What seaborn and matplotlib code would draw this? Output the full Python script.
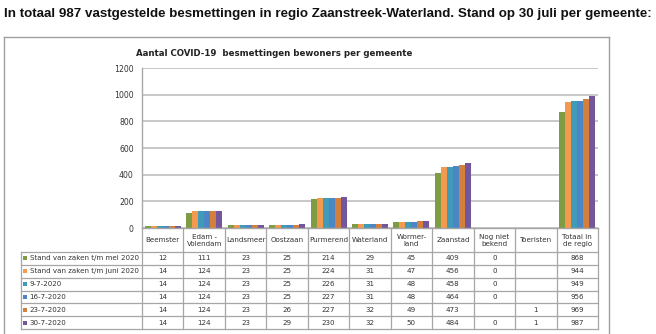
import matplotlib
matplotlib.use("Agg")
import matplotlib.pyplot as plt
import seaborn as sns
import pandas as pd
import numpy as np
from matplotlib.lines import Line2D
from matplotlib.patches import Rectangle

# ---------------- data ----------------
gemeenten = ["Beemster", "Edam -\nVolendam", "Landsmeer", "Oostzaan", "Purmerend",
             "Waterland", "Wormer-\nland", "Zaanstad", "Nog niet\nbekend",
             "Toeristen", "Totaal in\nde regio"]
reeksen = ["Stand van zaken t/m mei 2020", "Stand van zaken t/m juni 2020",
           "9-7-2020", "16-7-2020", "23-7-2020", "30-7-2020"]
mei_2020 = [12, 111, 23, 25, 214, 29, 45, 409, 0, None, 868]
juni_2020 = [14, 124, 23, 25, 224, 31, 47, 456, 0, None, 944]
d_9_7 = [14, 124, 23, 25, 226, 31, 48, 458, 0, None, 949]
d_16_7 = [14, 124, 23, 25, 227, 31, 48, 464, 0, None, 956]
d_23_7 = [14, 124, 23, 26, 227, 32, 49, 473, None, 1, 969]
d_30_7 = [14, 124, 23, 29, 230, 32, 50, 484, 0, 1, 987]
waarden = [mei_2020, juni_2020, d_9_7, d_16_7, d_23_7, d_30_7]
y_ticks = [0, 200, 400, 600, 800, 1000, 1200]

kleuren = ["#7F9C45", "#F39A4E", "#3F9BB8", "#4C86C4", "#D47F3C", "#74579A"]

titel = ("In totaal 987 vastgestelde besmettingen in regio Zaanstreek-Waterland. "
         "Stand op 30 juli per gemeente:")
grafiek_titel = "Aantal COVID-19  besmettingen bewoners per gemeente"

rows = []
for r, vals in zip(reeksen, waarden):
    for g, v in zip(gemeenten, vals):
        rows.append({"gemeente": g, "reeks": r,
                     "aantal": np.nan if v is None else v})
df = pd.DataFrame(rows)

# ---------------- figure ----------------
W, H = 656, 334
fig = plt.figure(figsize=(W / 100, H / 100), dpi=100)
fig.patch.set_facecolor("white")

L, R, T, B = 142, 598, 68, 228
ax = fig.add_axes([L / W, 1 - B / H, (R - L) / W, (B - T) / H])

sns.barplot(data=df, x="gemeente", y="aantal", hue="reeks", order=gemeenten,
            hue_order=reeksen, palette=kleuren, width=0.87, gap=0,
            saturation=1, linewidth=0, errorbar=None, legend=False, ax=ax)

ax.set_xlim(-0.5, len(gemeenten) - 0.5)
ax.set_ylim(0, 1200)
ax.set_yticks(y_ticks)
ax.set_yticklabels([str(t) for t in y_ticks], fontsize=5.6, color="#333333",
                   family="DejaVu Sans")
ax.tick_params(axis="y", length=0, pad=6)
ax.set_xticks([])
ax.set_xlabel("")
ax.set_ylabel("")
ax.grid(axis="y", color="#C4C4C4", linewidth=1.3)
ax.set_axisbelow(True)
for s in ["top", "right", "bottom"]:
    ax.spines[s].set_visible(False)
ax.spines["left"].set_color("#A8A8A8")
ax.spines["left"].set_linewidth(1.0)


def fx(px):
    return px / W


def fy(py):
    return 1 - py / H


# outer frame
fig.add_artist(Line2D([fx(4), fx(609)], [fy(36.5), fy(36.5)], color="#A0A0A0", lw=1.0))
fig.add_artist(Line2D([fx(4), fx(4)], [fy(36.5), fy(340)], color="#A0A0A0", lw=1.0))
fig.add_artist(Line2D([fx(609), fx(609)], [fy(36.5), fy(340)], color="#A0A0A0", lw=1.0))

# titles
fig.text(fx(3.5), fy(14), titel, fontsize=9.65, fontweight="bold",
         family="Liberation Sans", ha="left", va="center", color="#111111")
fig.text(fx(274), fy(53), grafiek_titel, fontsize=6.2, fontweight="bold",
         family="DejaVu Sans", ha="center", va="center", color="#222222")

# ---------------- data table ----------------
lc = "#A6A6A6"
tc = "#333333"
fs = 5.15
ncol = len(gemeenten)
cw = (R - L) / ncol
head_top, head_bot = 228, 252
row_h = (329 - head_bot) / len(reeksen)
lab_left = 21

# header horizontal (x-axis) and row lines
fig.add_artist(Line2D([fx(L), fx(R)], [fy(head_top), fy(head_top)], color=lc, lw=1.0))
for i in range(len(reeksen) + 1):
    yy = head_bot + i * row_h
    fig.add_artist(Line2D([fx(lab_left), fx(R)], [fy(yy), fy(yy)], color=lc, lw=0.9))
# vertical lines
fig.add_artist(Line2D([fx(lab_left), fx(lab_left)], [fy(head_bot), fy(329)], color=lc, lw=0.9))
for j in range(ncol + 1):
    xx = L + j * cw
    fig.add_artist(Line2D([fx(xx), fx(xx)], [fy(head_top), fy(329)], color=lc, lw=0.9))

# header texts
for j, g in enumerate(gemeenten):
    fig.text(fx(L + (j + 0.5) * cw), fy((head_top + head_bot) / 2 + 0.5), g,
             fontsize=fs, ha="center", va="center", color=tc,
             linespacing=1.3, family="DejaVu Sans")

# rows
for i, (r, vals) in enumerate(zip(reeksen, waarden)):
    yc = head_bot + (i + 0.5) * row_h
    fig.add_artist(Rectangle((fx(23.5), fy(yc + 2)), 4 / W, 4 / H,
                             facecolor=kleuren[i], edgecolor="none"))
    fig.text(fx(29.5), fy(yc), r, fontsize=fs, ha="left", va="center",
             color=tc, family="DejaVu Sans")
    for j, v in enumerate(vals):
        if v is None:
            continue
        fig.text(fx(L + (j + 0.5) * cw), fy(yc), str(v), fontsize=fs,
                 ha="center", va="center", color=tc, family="DejaVu Sans")

fig.savefig("out.png", dpi=100)
